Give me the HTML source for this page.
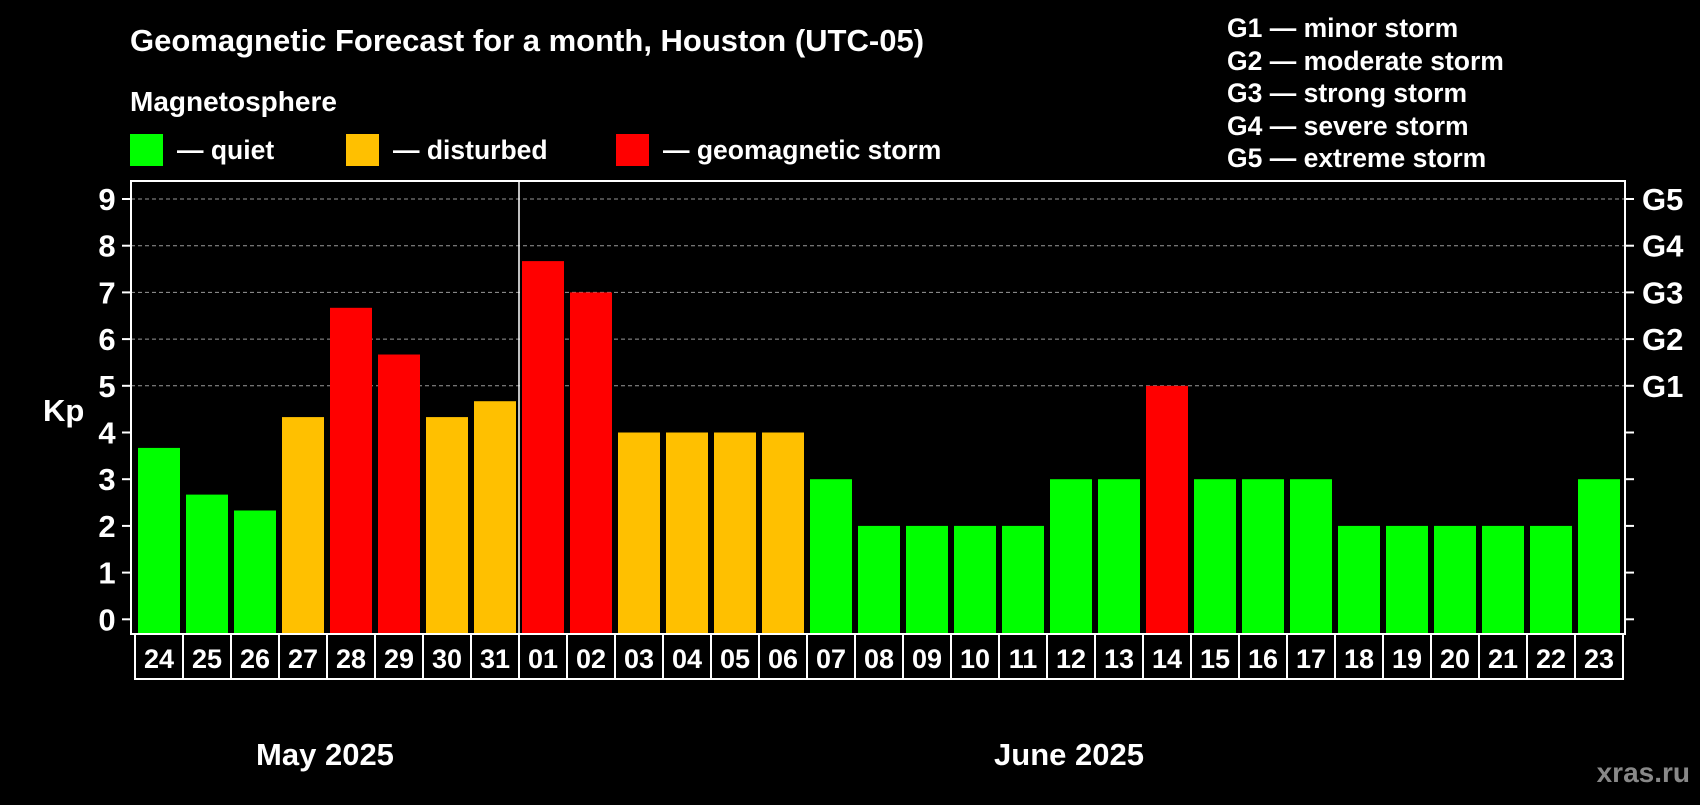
<!DOCTYPE html>
<html><head><meta charset="utf-8"><style>
body{margin:0;background:#000;width:1700px;height:800px;overflow:hidden;font-family:"Liberation Sans",sans-serif;font-weight:bold;color:#fff}
svg text{font-family:"Liberation Sans",sans-serif;font-weight:bold}
</style></head><body>
<svg id="c" width="1700" height="800" xmlns="http://www.w3.org/2000/svg">
<rect width="1700" height="800" fill="#000"/>
<text x="130" y="51" font-size="31" fill="#fff">Geomagnetic Forecast for a month, Houston (UTC-05)</text>
<text x="130" y="111" font-size="28" fill="#fff">Magnetosphere</text>
<g><rect x="130" y="134" width="33" height="32" fill="#00ff00"/><text x="177" y="159" font-size="26.5" fill="#fff">— quiet</text></g>
<g><rect x="346" y="134" width="33" height="32" fill="#ffc000"/><text x="393" y="159" font-size="26.5" fill="#fff">— disturbed</text></g>
<g><rect x="616" y="134" width="33" height="32" fill="#ff0000"/><text x="663" y="159" font-size="26.5" fill="#fff">— geomagnetic storm</text></g>
<g font-size="26.5" fill="#fff">
<text x="1227" y="37">G1 — minor storm</text><text x="1227" y="70">G2 — moderate storm</text><text x="1227" y="102">G3 — strong storm</text><text x="1227" y="135">G4 — severe storm</text><text x="1227" y="167">G5 — extreme storm</text></g>
<text x="43" y="421" font-size="31" fill="#fff">Kp</text>
<text x="325" y="765" font-size="31" fill="#fff" text-anchor="middle">May 2025</text>
<text x="1069" y="765" font-size="31" fill="#fff" text-anchor="middle">June 2025</text>
<text x="1690" y="782" font-size="28" fill="#888" text-anchor="end">xras.ru</text>
<g id="plot"></g>
</svg>
<script>
const days=["24","25","26","27","28","29","30","31","01","02","03","04","05","06","07","08","09","10","11","12","13","14","15","16","17","18","19","20","21","22","23"];
const kpValues=[3.67,2.67,2.33,4.33,6.67,5.67,4.33,4.67,7.67,7,4,4,4,4,3,2,2,2,2,3,3,5,3,3,3,2,2,2,2,2,3];
const yTicks=[0,1,2,3,4,5,6,7,8,9];
const gLabels=["G1","G2","G3","G4","G5"];
const NS="http://www.w3.org/2000/svg";
const g=document.getElementById('plot');
const y0=619.3,unit=46.7,x0=138,pitch=48,bw=42;
const Y=v=>y0-v*unit;
const X=i=>x0+i*pitch;
function mk(t,a){const e=document.createElementNS(NS,t);for(const k in a)e.setAttribute(k,a[k]);g.appendChild(e);return e;}
yTicks.forEach(v=>{
  if(v>=5){const l=mk('line',{x1:131,x2:1625,y1:Y(v),y2:Y(v),stroke:'#999','stroke-dasharray':'4,3','stroke-width':1});
  
  }
  const t=mk('line',{x1:122,x2:131,y1:Y(v),y2:Y(v),stroke:'#fff','stroke-width':2});
  
  
  const t2=mk('line',{x1:1625,x2:1634,y1:Y(v),y2:Y(v),stroke:'#fff','stroke-width':2});
  
  
  const tx=mk('text',{x:107,y:Y(v)+11,'font-size':31,fill:'#fff','text-anchor':'middle'});
  tx.textContent=v;
  
  
});
gLabels.forEach((s,i)=>{
  const tx=mk('text',{x:1642,y:Y(5+i)+11,'font-size':31,fill:'#fff'});
  tx.textContent=s;
  
  
});
kpValues.forEach((v,i)=>{
  const col=v>=5?'#ff0000':(v>=4?'#ffc000':'#00ff00');
  const r=mk('rect',{x:X(i),y:Y(v),width:bw,height:634-Y(v),fill:col});
  
  
  const c=mk('rect',{x:X(i)-3,y:634,width:pitch,height:45,fill:'none',stroke:'#fff','stroke-width':2});
  
  
  const t=mk('text',{x:X(i)+bw/2,y:668,'font-size':27,fill:'#fff','text-anchor':'middle'});
  t.textContent=days[i];
  
  
});
const sep=mk('line',{x1:X(8)-3,x2:X(8)-3,y1:181,y2:634,stroke:'#fff','stroke-width':1.5});


const fr=mk('rect',{x:131,y:181,width:1494,height:453,fill:'none',stroke:'#fff','stroke-width':2});


</script>
</body></html>
